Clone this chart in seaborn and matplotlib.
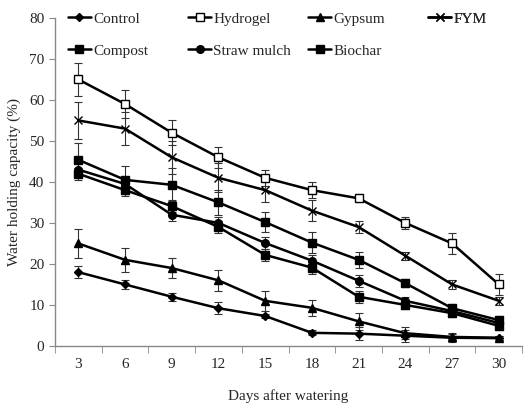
import numpy as np
import matplotlib
matplotlib.use('Agg')
import matplotlib.pyplot as plt
import seaborn as sns

# data
days = [3, 6, 9, 12, 15, 18, 21, 24, 27, 30]

control = [18, 15, 12, 9.2, 7.3, 3.2, 3.0, 2.5, 2.0, 1.9]
control_err = [1.5, 1.0, 1.0, 1.5, 0.6, 0.6, 1.5, 1.5, 1.0, 0.5]

hydrogel = [65, 59, 52, 46, 41, 38, 36, 30, 25, 15]
hydrogel_err = [4.0, 3.5, 3.0, 2.5, 2.0, 2.0, 1.0, 1.5, 2.5, 2.5]

gypsum = [25, 21, 19, 16, 11, 9.3, 6, 3.1, 2.2, 2.0]
gypsum_err = [3.5, 3.0, 2.5, 2.5, 2.5, 2.0, 2.0, 1.5, 1.0, 0.5]

fym = [55, 53, 46, 41, 38, 33, 29, 22, 15, 11]
fym_err = [4.5, 4.0, 4.0, 3.5, 3.0, 2.5, 1.5, 1.0, 1.0, 1.0]

compost = [45.4, 40.5, 39.3, 35, 30.2, 25.2, 21, 15.3, 9.2, 6.3]
compost_err = [4.0, 3.5, 4.0, 3.0, 2.5, 2.5, 2.0, 1.0, 1.0, 1.0]

straw = [43, 39.5, 32, 30, 25.1, 20.8, 15.9, 11, 8.5, 5.6]
straw_err = [1.5, 1.5, 1.5, 1.5, 1.5, 1.5, 1.5, 1.0, 1.0, 1.0]

biochar = [42, 38, 34.1, 29, 22.2, 19.1, 12, 10, 8.0, 4.9]
biochar_err = [1.5, 1.5, 1.5, 1.5, 1.5, 1.5, 1.5, 1.0, 1.0, 1.0]

series = [
    ('Control', control, control_err, 'D', 'black', 4.5),
    ('Hydrogel', hydrogel, hydrogel_err, 's', 'white', 6),
    ('Gypsum', gypsum, gypsum_err, '^', 'black', 6),
    ('FYM', fym, fym_err, 'x', 'black', 6),
    ('Compost', compost, compost_err, 's', 'black', 6),
    ('Straw mulch', straw, straw_err, 'o', 'black', 5.5),
    ('Biochar', biochar, biochar_err, 's', 'black', 6),
]

sns.set_style('ticks')
plt.rcParams['font.family'] = ['Liberation Serif', 'DejaVu Serif']

fig = plt.figure(figsize=(5.28, 4.07), dpi=100)
ax = fig.add_axes([0.104, 0.150, 0.885, 0.806])

pos = np.arange(len(days))
handles = {}
for name, vals, err, mk, fc, ms in series:
    ax.errorbar(pos, vals, yerr=err, fmt='none', ecolor='#333333',
                elinewidth=0.8, capsize=2.8, capthick=0.8, zorder=2)
    sns.lineplot(x=pos, y=vals, ax=ax, color='black', linewidth=1.8,
                 marker=mk, markersize=ms, markerfacecolor=fc,
                 markeredgecolor='black', markeredgewidth=1.0,
                 label=name, zorder=3)
    handles[name] = ax.lines[-1]

ax.set_xlim(-0.5, len(days) - 0.5)
ax.set_ylim(0, 80)
ax.set_yticks(range(0, 81, 10))
ax.set_xticks(pos)
ax.set_xticklabels([str(d) for d in days])
ax.set_xticks(np.arange(-0.5, len(days), 1), minor=True)
ax.tick_params(axis='x', which='major', length=0, pad=9, labelsize=11)
ax.tick_params(axis='x', which='minor', length=5, color='#888888', direction='out')
ax.tick_params(axis='y', length=4, color='#888888', labelsize=11)

for s in ['top', 'right']:
    ax.spines[s].set_visible(False)
for s in ['left', 'bottom']:
    ax.spines[s].set_color('#888888')
    ax.spines[s].set_linewidth(1.0)

ax.set_xlabel('Days after watering', fontsize=11, labelpad=13)
ax.set_ylabel('Water holding capacity (%)', fontsize=11, labelpad=6)

# legend laid out row-wise in 4 evenly spaced columns
ax.get_legend().remove()
columns = [['Control', 'Compost'], ['Hydrogel', 'Straw mulch'], ['Gypsum', 'Biochar'], ['FYM']]
col_x = [0.028, 0.285, 0.542, 0.799]
for names, x in zip(columns, col_x):
    leg = ax.legend([handles[n] for n in names], names, loc='upper left',
                    frameon=False, fontsize=11, handlelength=1.5,
                    handletextpad=0.15, borderpad=0.0, borderaxespad=0.0,
                    labelspacing=1.2, bbox_to_anchor=(x, 1.018))
    ax.add_artist(leg)

fig.savefig('out.png', dpi=100)
